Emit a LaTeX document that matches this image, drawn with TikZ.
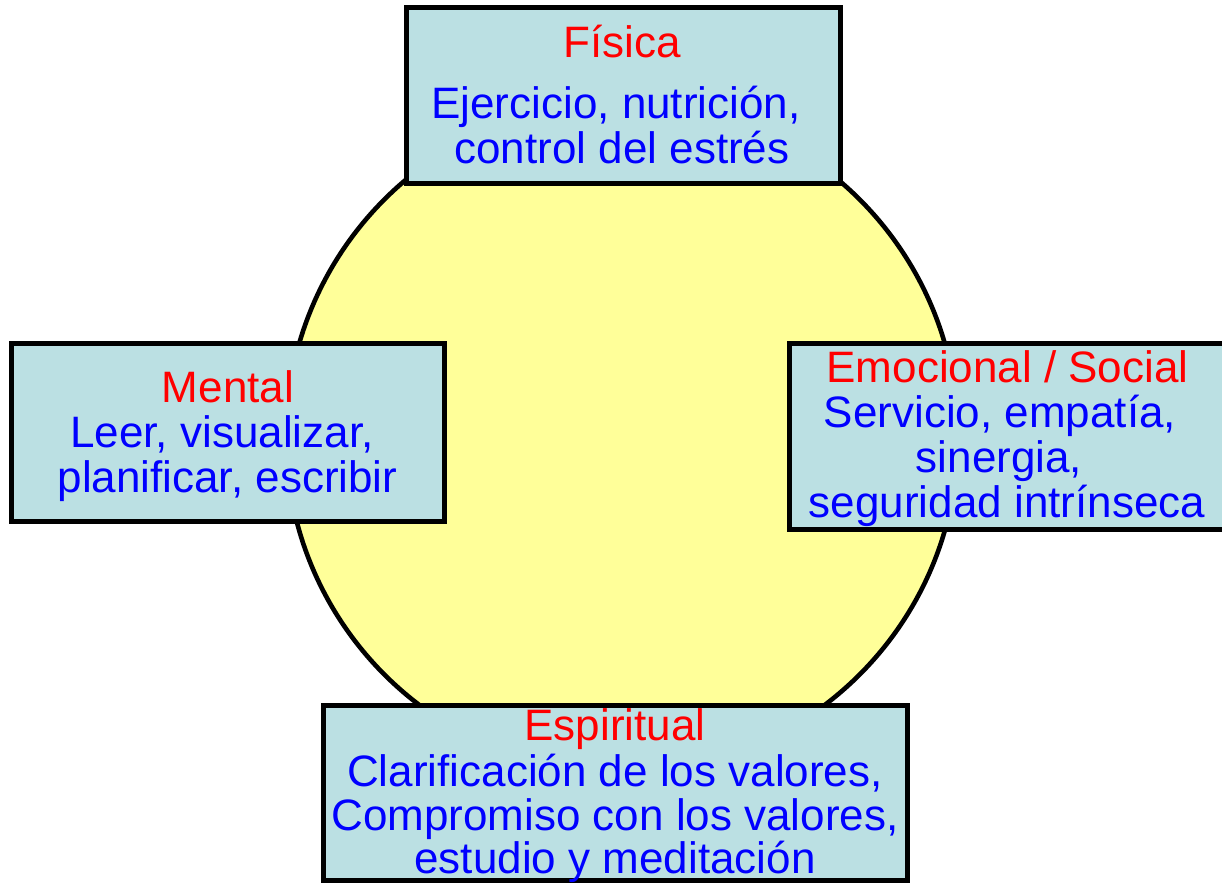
\documentclass[tikz,border=0pt]{standalone}
\usepackage{fontspec}
\setmainfont{Liberation Sans}
\definecolor{discyellow}{HTML}{FFFF99}
\definecolor{boxblue}{HTML}{BBE0E3}
\definecolor{titlered}{HTML}{FF0000}
\definecolor{textblue}{HTML}{0000FF}
\begin{document}
\begin{tikzpicture}[x=1pt,y=-1pt,
  areabox/.style={draw=black, line width=5pt, fill=boxblue},
  titletext/.style={anchor=base, inner sep=0pt, text=titlered, font=\fontsize{44}{47}\selectfont},
  bodytext/.style={anchor=base, inner sep=0pt, text=textblue, font=\fontsize{44}{47}\selectfont}]
\useasboundingbox (0,0) rectangle (1222,883);
% central disc
\draw[line width=4.6pt, fill=discyellow] (622,437) circle[radius=336pt];
% boxes
\draw[areabox] (406,8) rectangle (840,183);
\draw[areabox] (11.5,343.5) rectangle (444.5,521.5);
\draw[areabox] (789.5,343.5) rectangle (1240,529.5);
\draw[areabox] (323.5,705.5) rectangle (907.5,880.5);
% Fisica
\node[titletext] (fisT) at (622,57) {Física};
\node[bodytext] (fis1) at (616,118) {Ejercicio, nutrición,};
\node[bodytext] (fis2) at (622,163) {control del estrés};
% Mental
\node[titletext] (menT) at (228,402) {Mental};
\node[bodytext] (men1) at (222,447) {Leer, visualizar,};
\node[bodytext] (men2) at (227.5,492) {planificar, escribir};
% Emocional / Social
\node[titletext] (emoT) at (1007.5,382) {Emocional / Social};
\node[bodytext] (emo1) at (1000,427) {Servicio, empatía,};
\node[bodytext] (emo2) at (999,472) {sinergia,};
\node[bodytext] (emo3) at (1007,517) {seguridad intrínseca};
% Espiritual
\node[titletext] (espT) at (615,740) {Espiritual};
\node[bodytext] (esp1) at (615,786) {Clarificación de los valores,};
\node[bodytext] (esp2) at (615,830) {Compromiso con los valores,};
\node[bodytext] (esp3) at (615,873) {estudio y meditación};
\end{tikzpicture}
\end{document}
